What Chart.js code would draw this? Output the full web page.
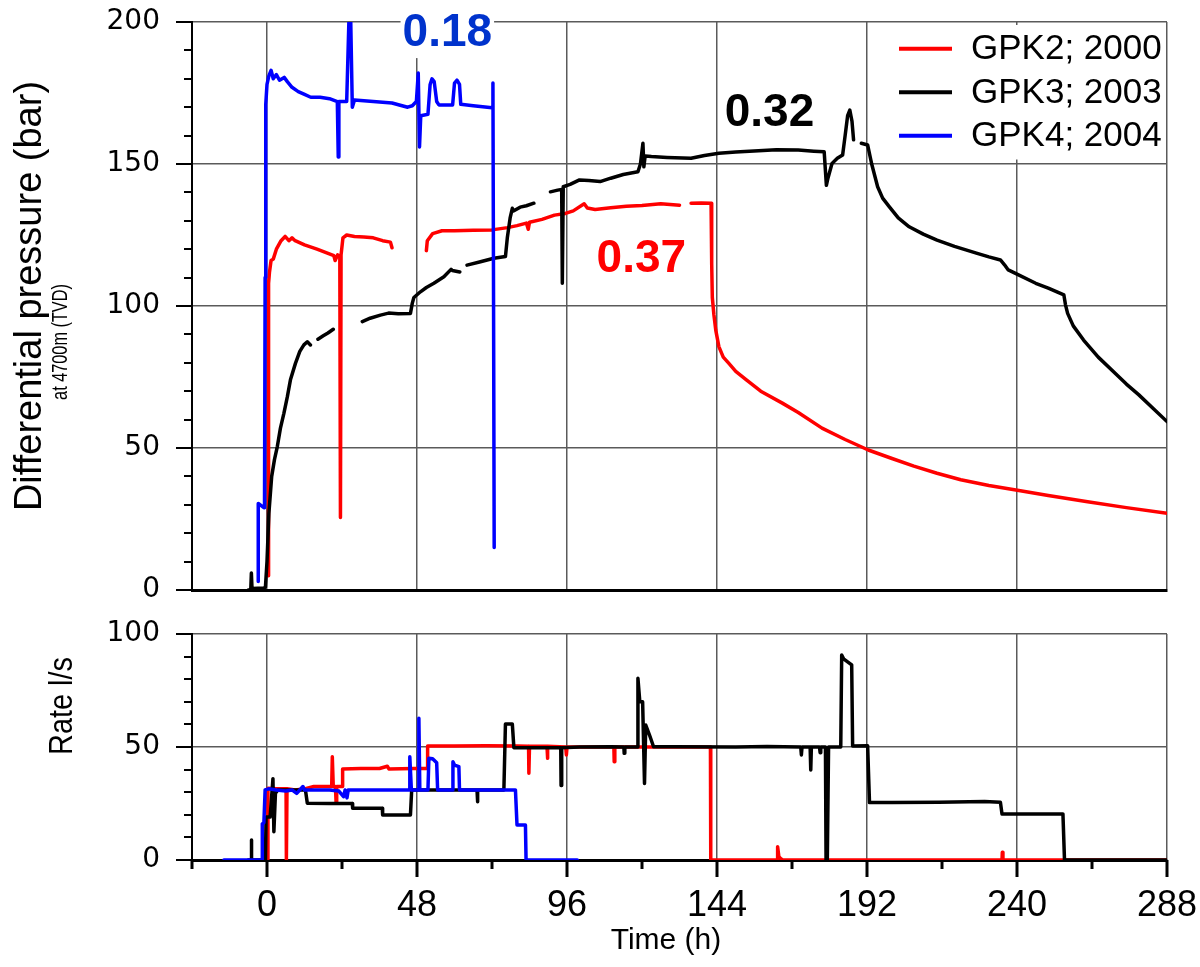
<!DOCTYPE html>
<html lang="en">
<head>
<meta charset="UTF-8">
<title>Differential pressure and flow rate</title>
<script src="https://cdn.jsdelivr.net/npm/chart.js"></script>
<style>
  body { margin: 0; background: #fff; }
  .wrap { position: relative; width: 1200px; height: 967px; }
  #pressureChart { position: absolute; left: 0; top: 0; }
  #rateChart { position: absolute; left: 0; top: 600px; }
</style>
</head>
<body>
<div class="wrap">
  <canvas id="pressureChart" width="1200" height="600"></canvas>
  <canvas id="rateChart" width="1200" height="367"></canvas>
</div>
<script>
// [time h, value]; null value = gap in the record
const seriesLabels = ['GPK2; 2000', 'GPK3; 2003', 'GPK4; 2004'];
const seriesColors = ['#ff0000', '#000000', '#0000ff'];
const xTickLabels = [0, 48, 96, 144, 192, 240, 288];

const gpk2Pressure = [
  [0.4, 5], [0.5, 108], [0.8, 112], [1.3, 116], [2.0, 116.5], [3.0, 120], [4.5, 123], [5.8, 124.5],
  [7.0, 123], [8.0, 124], [9.0, 123], [12, 121.5], [16, 120], [21.4, 117.7], [21.8, 116], [22.6, 118],
  [23.3, 117.5], [23.5, 25.5], [23.7, 118], [24.3, 124], [25.5, 125], [28, 124.5], [31, 124.3], [34, 124],
  [37, 123], [39.5, 122.5], [40, 120.5], [45, null], [51, 119.5], [51.3, 123], [53, 125.5], [56, 126.5],
  [60, 126.5], [66, 126.7], [72, 126.8], [77, 127.6], [80, 128.3], [83, 129.2], [83.6, 127], [84, 129.5],
  [88, 130.5], [92, 132], [95.5, 132.6], [98, 133.5], [101.5, 136], [102.5, 134.5], [105, 134], [110, 134.6],
  [115, 135.1], [120, 135.4], [126, 136], [132, 135.5], [133.8, null], [135.7, 136.2], [139, 136.3],
  [142.1, 136.2], [142.3, 115], [142.5, 103], [143.0, 97], [143.6, 91.5], [144.6, 85.7], [146, 82],
  [147.8, 79.8], [150, 77], [153.5, 73.9], [158, 70], [164.9, 65.8], [170, 62.5], [177.6, 57], [185, 53],
  [192.4, 49.3], [200, 46.3], [207, 43.6], [214.4, 41.1], [222, 38.8], [231, 36.8], [240.6, 35.0],
  [250, 33.3], [262.6, 31.1], [275, 29], [288, 27]
];

const gpk3Pressure = [
  [-6, 0], [-5.2, 0], [-5, 6], [-4.8, 0.5], [-1, 0.7], [-0.5, 1], [0, 10], [0.6, 27], [1.5, 40], [2.4, 46],
  [3.3, 50.5], [4.3, 57], [5.4, 62.2], [6.5, 68], [7.5, 74], [9.1, 79.8], [10.5, 84], [11.8, 86.3],
  [12.9, 87.4], [13.9, 86.3], [15, null], [16.3, 88.3], [18, 89.5], [19.5, 90.5], [21.2, 91.8], [26, null],
  [30.5, 94.5], [33, 95.7], [36.3, 96.8], [38.9, 97.5], [42, 97.3], [45.9, 97.4], [46.5, 101], [47, 103],
  [49.1, 105], [51, 106.5], [53.4, 108], [56.6, 110.3], [58.9, 112.9], [59.3, 112.5], [61.7, 112],
  [63, null], [64, 114.4], [68, 115.5], [72.6, 116.8], [76.3, 117.4], [76.9, 124], [77.8, 131], [78.5, 134.4],
  [79, 133.5], [81, 134.8], [83, 135.3], [85.4, 136.2], [88, null], [90.7, 140.2], [93, 140.8], [94.3, 141],
  [94.5, 108], [94.8, 142], [97, 142.8], [100, 144.4], [103, 144.2], [106.6, 143.8], [110, 145], [114, 146.3],
  [118.7, 147.3], [119.5, 150], [120.3, 157.3], [120.6, 149], [121, 152.8], [123, 152.6], [128, 152.3],
  [135.7, 152], [140, 153], [144.6, 153.8], [150, 154.2], [157.3, 154.7], [163, 155], [170, 154.9],
  [175, 154.5], [178.3, 154.3], [179.0, 142.5], [179.5, 145], [180.8, 150.2], [182.5, 152], [184.2, 153.2],
  [185, 160], [185.8, 167], [186.5, 169], [187.2, 165], [187.7, 158.5], [189, null], [190.2, 157.3],
  [192.2, 156.7], [193.5, 150], [195.4, 142], [197, 138], [199.1, 135], [202, 131], [205.5, 127.9],
  [210, 125.3], [214.4, 123.2], [220, 121], [227, 118.6], [231, 117.3], [234.7, 116.2], [236, 114.5],
  [237.2, 112.7], [240, 111.2], [246, 108], [250, 106.3], [255, 103.9], [255.5, 100.5], [256.2, 97.4],
  [258, 93], [261.3, 88], [266, 82], [271.4, 76.3], [275, 72.5], [279, 68.7], [283.5, 64], [288, 59.3]
];

const gpk4Pressure = [
  [-2.8, 3], [-2.8, 30.5], [-1.0, 29], [-0.8, 29], [-0.6, 110], [-0.4, 171], [0.0, 178], [0.6, 181],
  [1.3, 183], [2.0, 180], [3.0, 181.5], [4.0, 179.5], [5.5, 180.5], [6.5, 179], [8.0, 177], [10.0, 175.5],
  [12.0, 174.5], [14.0, 173.5], [17.0, 173.5], [20.0, 173], [22.5, 172], [22.8, 152.5], [23.0, 172],
  [25.5, 172], [26.2, 200], [26.8, 200], [27.3, 170], [28.0, 172.5], [34, 172], [40, 171.5], [45, 170],
  [46.5, 170.5], [47.8, 172], [48.4, 182], [48.8, 156], [49.2, 167], [51.5, 167.5], [52.2, 178], [52.8, 180],
  [53.5, 179], [54.3, 172], [55, 170.8], [59.4, 170.8], [60, 178.5], [60.8, 179.5], [61.6, 178], [62, 171],
  [66, 170.5], [72, 169.8], [72.3, 178.5], [72.5, 100], [72.7, 15]
];

const gpk2Rate = [
  [0.2, 0], [0.3, 31.7], [3, 31.5], [6.1, 31.5], [6.2, 0], [6.4, 31.5], [9, 31], [12.3, 31.5], [15, 32.5],
  [20.7, 32.5], [20.9, 45.7], [21.2, 32.5], [21.9, 32.5], [22.1, 25.8], [22.3, 32.5], [24.0, 32.5],
  [24.2, 40.3], [30, 40.5], [36, 40.5], [38.5, 41.5], [39, 40.3], [47, 40.5], [51.2, 40.5], [51.4, 50.4],
  [60, 50.4], [70, 50.5], [80, 50.4], [83.7, 50.3], [83.8, 38.4], [84, 50.3], [89.6, 50.3], [89.7, 45],
  [89.9, 50.3], [95.6, 50], [95.8, 46.5], [96, 50], [111, 50], [111.1, 43.5], [111.3, 50], [120, 50],
  [130, 50], [141.9, 50], [142.0, 0], [163.3, 0], [163.4, 5.9], [163.8, 1.5], [164.5, 0.5], [165, 0],
  [235.2, 0], [235.3, 3.4], [235.5, 0], [288, 0]
];

const gpk3Rate = [
  [-6, 0], [-5.1, 0], [-5.0, 8.8], [-4.9, 0], [-0.5, 0], [-0.3, 19], [1.0, 19], [1.9, 36], [2.2, 12.5],
  [2.7, 29.5], [3.5, 31], [8, 31], [12.3, 31], [12.9, 25.1], [20, 25], [27.3, 25], [27.4, 22.9], [32, 22.9],
  [36.9, 22.9], [37.0, 19.9], [45.9, 19.9], [46.3, 31], [55, 31], [67.2, 31], [67.3, 25.8], [67.5, 31],
  [75.8, 31], [76.3, 60.2], [78.5, 60.2], [79.0, 49.7], [85, 49.7], [94.0, 49.7], [94.1, 33], [94.3, 49.7],
  [100, 50], [110, 50.1], [114.2, 50], [114.3, 47.2], [114.5, 50], [118.5, 50], [118.7, 80.4], [119.3, 70],
  [120.2, 70], [120.8, 33.9], [121.2, 59.7], [122.4, 55.3], [123.7, 50.1], [130, 50.1], [150, 50],
  [160, 50.2], [170.8, 50], [171, 46.5], [171.2, 50], [173.8, 50], [174, 39.8], [174.2, 50], [176.8, 50],
  [177, 47.5], [177.2, 50], [178.7, 50], [178.9, 0], [179.3, 0], [179.7, 50], [183.6, 50], [183.9, 90.7],
  [184.5, 89], [187.1, 86.3], [187.4, 50.4], [192.2, 50.6], [192.8, 25.4], [200, 25.4], [215, 25.5],
  [229.6, 25.9], [234.7, 25.5], [235.2, 20.4], [245, 20.4], [254.7, 20.4], [255.2, 0], [288, 0]
];

const gpk4Rate = [
  [-13.8, 0], [-1.6, 0], [-1.5, 16], [-1.0, 16.5], [-0.6, 31], [0.5, 31.5], [3, 31], [6, 30.5], [8, 31],
  [9.5, 29.5], [10.5, 31], [11.5, 32.5], [12, 31], [20, 31], [23, 30.5], [24.5, 28], [25, 31],
  [25.6, 27.5], [26, 31], [36, 31], [40, 31], [45.5, 31], [45.7, 45.7], [46.2, 31], [48.4, 31], [48.6, 62.7],
  [48.9, 31], [51.5, 31], [51.8, 45], [53, 44.8], [54.3, 43], [54.6, 31], [59.3, 31], [59.5, 43.5],
  [60, 42], [61.4, 41.3], [61.6, 31], [66, 31], [72, 31], [75, 31], [79.5, 31], [80, 15.5], [82.7, 15.5],
  [82.9, 0], [99.3, 0]
];

// labels written on the pressure plot: [text, time h, bar, colour]
const pressureNotes = [
  ['0.18', 57.7, 196.8, '#0033cc'],
  ['0.32', 160.8, 168.5, '#000000'],
  ['0.37', 119.8, 117.2, '#ff0000']
];

const toPoints = arr => arr.map(([x, y]) => ({ x: x, y: y }));
const gridColor = '#5a5a5a';
const sans = 'Liberation Sans, Arial, sans-serif';

function makeDatasets(lists) {
  return lists.map((list, i) => ({
    label: seriesLabels[i],
    data: toPoints(list),
    borderColor: seriesColors[i],
    borderWidth: 3.5,
    borderJoinStyle: 'round',
    borderCapStyle: 'round',
    pointRadius: 0,
    tension: 0,
    spanGaps: false,
    order: 3 - i
  }));
}

function xAxis(showLabels, height) {
  return {
    type: 'linear',
    min: -24,
    max: 288,
    ticks: {
      stepSize: 24,
      display: showLabels,
      autoSkip: false,
      maxRotation: 0,
      padding: 24,
      color: '#000',
      font: { family: sans, size: 36 },
      callback: v => xTickLabels.includes(v) ? v : ''
    },
    grid: {
      drawTicks: false,
      lineWidth: 1.5,
      color: ctx => ctx.tick && ctx.tick.value % 48 === 0 ? gridColor : 'rgba(0,0,0,0)'
    },
    border: { color: '#000', width: 3 },
    afterFit: s => { s.height = height; s.paddingLeft = 0; s.paddingRight = 0; }
  };
}

function yAxis(max) {
  return {
    min: 0,
    max: max,
    ticks: {
      stepSize: 10,
      autoSkip: false,
      padding: 32,
      color: '#000',
      font: { family: 'DejaVu Sans, sans-serif', size: 28 },
      callback: v => v % 50 === 0 ? v : ''
    },
    grid: {
      drawTicks: false,
      lineWidth: 1.5,
      color: ctx => ctx.tick && ctx.tick.value % 50 === 0 && ctx.tick.value > 0 ? gridColor : 'rgba(0,0,0,0)'
    },
    border: { color: '#000', width: 2 },
    afterFit: s => { s.width = 192; s.paddingTop = 0; s.paddingBottom = 0; }
  };
}

// small outside tick marks, axis titles, legend and value labels
const decorations = {
  id: 'decorations',
  afterDraw(chart, args, opts) {
    const { ctx, chartArea: area, scales: { x, y } } = chart;
    ctx.save();
    ctx.strokeStyle = '#000';
    ctx.lineWidth = 2;
    for (let v = y.min; v <= y.max; v += 10) {
      const py = Math.round(y.getPixelForValue(v));
      const len = v % 50 === 0 ? 16 : 8;
      ctx.beginPath();
      ctx.moveTo(area.left - len, py);
      ctx.lineTo(area.left, py);
      ctx.stroke();
    }
    if (opts.xTicks) {
      ctx.lineWidth = 3;
      for (let v = x.min; v <= x.max; v += 24) {
        const px = Math.round(x.getPixelForValue(v));
        const len = v % 48 === 0 ? 17 : 9;
        ctx.beginPath();
        ctx.moveTo(px, area.bottom);
        ctx.lineTo(px, area.bottom + len);
        ctx.stroke();
      }
    }

    ctx.fillStyle = '#000';
    ctx.textAlign = 'center';
    ctx.textBaseline = 'middle';
    (opts.titles || []).forEach(t => {
      ctx.save();
      ctx.translate(t.x, t.y);
      if (t.rotate) ctx.rotate(-Math.PI / 2);
      ctx.scale(t.squeeze || 1, 1);
      ctx.font = t.font;
      ctx.fillText(t.text, 0, 0);
      ctx.restore();
    });

    (opts.notes || []).forEach(([text, tx, ty, color]) => {
      const px = x.getPixelForValue(tx);
      const py = y.getPixelForValue(ty);
      ctx.font = 'bold 46px ' + sans;
      const w = ctx.measureText(text).width;
      if (text === '0.18') {
        ctx.fillStyle = '#fff';
        ctx.fillRect(px - w / 2 - 2, 0, w + 4, py + 27);
      }
      ctx.fillStyle = color;
      ctx.fillText(text, px, py + 2);
    });

    if (opts.legend) {
      const lg = opts.legend;
      ctx.fillStyle = '#fff';
      ctx.fillRect(lg.left, lg.top, area.right - lg.left - 1, lg.rowGap * 3 + 4);
      ctx.font = '35px ' + sans;
      ctx.textAlign = 'left';
      chart.data.datasets.forEach((ds, i) => {
        const cy = lg.top + lg.rowGap * (i + 0.5) + 2;
        ctx.strokeStyle = ds.borderColor;
        ctx.lineWidth = 4;
        ctx.beginPath();
        ctx.moveTo(lg.left + 8, cy);
        ctx.lineTo(lg.left + 61, cy);
        ctx.stroke();
        ctx.fillStyle = '#000';
        ctx.fillText(ds.label, lg.left + 80, cy + 1);
      });
    }
    ctx.restore();
  }
};

new Chart(document.getElementById('pressureChart'), {
  type: 'line',
  data: { datasets: makeDatasets([gpk2Pressure, gpk3Pressure, gpk4Pressure]) },
  options: {
    responsive: false,
    animation: false,
    devicePixelRatio: 1,
    layout: { padding: { top: 22, right: 33, bottom: 0, left: 0 }, autoPadding: false },
    scales: { x: xAxis(false, 10), y: yAxis(200) },
    plugins: {
      legend: { display: false },
      tooltip: { enabled: false },
      decorations: {
        xTicks: false,
        notes: pressureNotes,
        legend: { left: 891, top: 25, rowGap: 43.5 },
        titles: [
          { text: 'Differential pressure (bar)', x: 31, y: 296, rotate: true, font: '38px ' + sans, squeeze: 1 },
          { text: 'at 4700m (TVD)', x: 61, y: 342, rotate: true, font: '22px ' + sans, squeeze: 0.74 }
        ]
      }
    }
  },
  plugins: [decorations]
});

new Chart(document.getElementById('rateChart'), {
  type: 'line',
  data: { datasets: makeDatasets([gpk2Rate, gpk3Rate, gpk4Rate]) },
  options: {
    responsive: false,
    animation: false,
    devicePixelRatio: 1,
    layout: { padding: { top: 34, right: 33, bottom: 0, left: 0 }, autoPadding: false },
    scales: { x: xAxis(true, 107), y: yAxis(100) },
    plugins: {
      legend: { display: false },
      tooltip: { enabled: false },
      decorations: {
        xTicks: true,
        titles: [
          { text: 'Rate l/s', x: 63, y: 106, rotate: true, font: '34px ' + sans, squeeze: 0.85 },
          { text: 'Time (h)', x: 666, y: 341, rotate: false, font: '30px ' + sans }
        ]
      }
    }
  },
  plugins: [decorations]
});
</script>
</body>
</html>
